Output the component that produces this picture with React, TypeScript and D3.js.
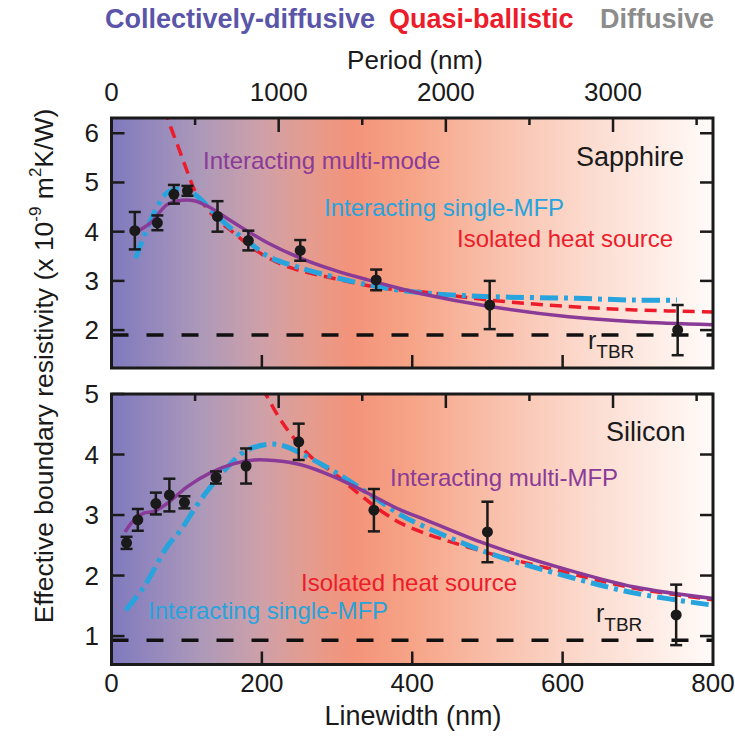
import React from "react";
import * as d3 from "d3";

// ---- Measured data (linewidth in nm, resistivity in 1e-9 m^2K/W) ----
const sapphireLw = [31, 61, 83, 101, 141, 182, 251, 352, 503, 753];
const sapphireR = [4.02, 4.18, 4.76, 4.83, 4.31, 3.82, 3.62, 3.02, 2.51, 2.0];
const sapphireErr = [0.38, 0.15, 0.19, 0.1, 0.31, 0.2, 0.21, 0.21, 0.49, 0.51];

const siliconLw = [20, 35, 59, 77, 97, 139, 179, 249, 349, 500, 751];
const siliconR = [2.54, 2.92, 3.19, 3.33, 3.21, 3.62, 3.81, 4.21, 3.08, 2.72, 1.35];
const siliconErr = [0.1, 0.18, 0.18, 0.27, 0.1, 0.1, 0.29, 0.3, 0.35, 0.5, 0.5];

// Model curves, sapphire
const sapMultiLw = [32, 52, 74, 94, 110, 130, 163, 208, 252, 296, 341, 385, 412, 503, 608, 696, 800];
const sapMultiR = [3.99, 4.18, 4.55, 4.64, 4.63, 4.5, 4.18, 3.77, 3.46, 3.22, 3.02, 2.84, 2.74, 2.48, 2.27, 2.17, 2.11];
const sapSingleLw = [32, 43, 59, 74, 97, 114, 141, 172, 190, 208, 252, 341, 412, 503, 608, 696, 752];
const sapSingleR = [3.46, 3.9, 4.45, 4.79, 4.87, 4.72, 4.31, 3.9, 3.7, 3.5, 3.26, 2.92, 2.76, 2.68, 2.65, 2.61, 2.61];
const sapIsoLw = [70, 74, 90, 103, 110, 132, 163, 194, 234, 296, 363, 412, 503, 608, 696, 800];
const sapIsoR = [6.5, 6.32, 5.67, 5.13, 4.86, 4.38, 3.97, 3.6, 3.29, 3.05, 2.85, 2.78, 2.61, 2.48, 2.41, 2.37];

// Model curves, silicon
const siMultiLw = [18, 28, 43, 56, 74, 101, 132, 163, 190, 216, 252, 296, 341, 385, 412, 496, 608, 696, 800];
const siMultiR = [2.72, 2.89, 3.03, 3.06, 3.19, 3.47, 3.7, 3.85, 3.91, 3.9, 3.83, 3.63, 3.36, 3.08, 2.95, 2.53, 2.09, 1.81, 1.62];
const siSingleLw = [19, 43, 74, 92, 114, 132, 155, 177, 208, 230, 261, 296, 341, 385, 407, 502, 608, 696, 800];
const siSingleR = [1.43, 1.81, 2.48, 2.75, 3.17, 3.47, 3.8, 4.05, 4.17, 4.14, 3.96, 3.72, 3.36, 3.0, 2.86, 2.37, 1.98, 1.71, 1.51];
const siIsoLw = [200, 205, 225, 252, 270, 296, 323, 363, 394, 496, 608, 696, 800];
const siIsoR = [5.1, 5.0, 4.57, 4.13, 3.91, 3.69, 3.41, 3.03, 2.81, 2.39, 2.04, 1.79, 1.6];

const sapphireTbr = 1.9;
const siliconTbr = 0.93;

const linewidthTicks = [0, 200, 400, 600, 800];
const periodMajorTicks = [0, 1000, 2000, 3000];
const periodMinorTicks = [500, 1500, 2500, 3500];
const sapphireYTicks = [2, 3, 4, 5, 6];
const siliconYTicks = [1, 2, 3, 4, 5];

const PURPLE = "#8a3b98";
const BLUE = "#27a3dd";
const RED = "#ec1c2a";
const FONT = "'Liberation Sans', Arial, sans-serif";

const X0 = 111.5;
const X1 = 713;
const x = d3.scaleLinear().domain([0, 800]).range([X0, X1]);
const xPeriod = d3.scaleLinear().domain([0, 3598]).range([X0, X1]);

type PanelProps = {
  id: string;
  top: number;
  bottom: number;
  y: d3.ScaleLinear<number, number>;
  yTicks: number[];
  lw: number[];
  r: number[];
  err: number[];
  multi: [number[], number[]];
  single: [number[], number[]];
  iso: [number[], number[]];
  tbr: number;
  children?: React.ReactNode;
};

function Panel(p: PanelProps) {
  const line = (xs: number[], ys: number[]) =>
    d3
      .line<number>()
      .x((_, i) => x(xs[i]))
      .y((_, i) => p.y(ys[i]))
      .curve(d3.curveCatmullRom.alpha(0.5))(ys) || "";
  const clipId = `clip-${p.id}`;
  return (
    <g>
      <defs>
        <clipPath id={clipId}>
          <rect x={X0} y={p.top} width={X1 - X0} height={p.bottom - p.top} />
        </clipPath>
      </defs>
      <rect x={X0} y={p.top} width={X1 - X0} height={p.bottom - p.top} fill="url(#regime)" />
      <g clipPath={`url(#${clipId})`}>
        <line
          x1={X0}
          x2={X1}
          y1={p.y(p.tbr)}
          y2={p.y(p.tbr)}
          stroke="#111"
          strokeWidth={3.5}
          strokeDasharray="17 18"
        />
        <path d={line(p.iso[0], p.iso[1])} fill="none" stroke={RED} strokeWidth={3.5} strokeDasharray="12 7" />
        <path
          d={line(p.single[0], p.single[1])}
          fill="none"
          stroke={BLUE}
          strokeWidth={5}
          strokeDasharray="18 6 4 6"
        />
        <path d={line(p.multi[0], p.multi[1])} fill="none" stroke={PURPLE} strokeWidth={3.5} />
      </g>
      {p.lw.map((v, i) => {
        const cx = x(v);
        const y1 = p.y(p.r[i] + p.err[i]);
        const y2 = p.y(p.r[i] - p.err[i]);
        return (
          <g key={i} stroke="#1a1a1a" strokeWidth={2.5}>
            <line x1={cx} x2={cx} y1={y1} y2={y2} />
            <line x1={cx - 6} x2={cx + 6} y1={y1} y2={y1} />
            <line x1={cx - 6} x2={cx + 6} y1={y2} y2={y2} />
            <circle cx={cx} cy={p.y(p.r[i])} r={5.5} fill="#1a1a1a" stroke="none" />
          </g>
        );
      })}
      {/* ticks, all pointing inward */}
      <g stroke="#1a1a1a" strokeWidth={2.5}>
        {p.yTicks.map((t) => (
          <g key={t}>
            <line x1={X0} x2={X0 + 13} y1={p.y(t)} y2={p.y(t)} />
            <line x1={X1 - 13} x2={X1} y1={p.y(t)} y2={p.y(t)} />
          </g>
        ))}
        {linewidthTicks.slice(1, -1).map((t) => (
          <line key={t} x1={x(t)} x2={x(t)} y1={p.bottom} y2={p.bottom - 13} />
        ))}
        {periodMajorTicks.slice(1).map((t) => (
          <line key={t} x1={xPeriod(t)} x2={xPeriod(t)} y1={p.top} y2={p.top + 14} />
        ))}
        {periodMinorTicks.map((t) => (
          <line key={t} x1={xPeriod(t)} x2={xPeriod(t)} y1={p.top} y2={p.top + 7} />
        ))}
      </g>
      <rect
        x={X0}
        y={p.top}
        width={X1 - X0}
        height={p.bottom - p.top}
        fill="none"
        stroke="#1a1a1a"
        strokeWidth={3}
      />
      {p.yTicks.map((t) => (
        <text key={t} x={99} y={p.y(t) + 9} textAnchor="end" fontSize={26} fill="#1a1a1a">
          {t}
        </text>
      ))}
      {p.children}
    </g>
  );
}

export default function App() {
  const ySap = d3.scaleLinear().domain([1.23, 6.31]).range([368, 118]);
  const ySi = d3.scaleLinear().domain([0.53, 5.0]).range([664.5, 394]);
  const regimeStops: [number, string][] = [
    [0, "#7f7abf"],
    [0.15, "#ad99b9"],
    [0.25, "#cfa0a8"],
    [0.33, "#e59c8e"],
    [0.4, "#f3937a"],
    [0.5, "#f6a487"],
    [0.65, "#f9c2ae"],
    [0.8, "#fcdcd0"],
    [1, "#fffbf9"],
  ];
  return (
    <svg
      width={735}
      height={736}
      style={{ position: "absolute", left: 0, top: 0, background: "#fff" }}
      fontFamily={FONT}
    >
      <defs>
        <linearGradient id="regime" gradientUnits="userSpaceOnUse" x1={X0} x2={X1} y1={0} y2={0}>
          {regimeStops.map(([o, c]) => (
            <stop key={o} offset={o} stopColor={c} />
          ))}
        </linearGradient>
      </defs>

      {/* regime headings */}
      <text y={28} fontSize={27} fontWeight="bold">
        <tspan x={105} fill="#5a55a8">Collectively-diffusive</tspan>
        <tspan x={389} fill={RED}>Quasi-ballistic</tspan>
        <tspan x={600} fill="#8c8c8c">Diffusive</tspan>
      </text>

      {/* period axis */}
      <text x={415} y={69} textAnchor="middle" fontSize={26} fill="#1a1a1a">
        Period (nm)
      </text>
      {periodMajorTicks.map((t) => (
        <text key={t} x={xPeriod(t)} y={101} textAnchor="middle" fontSize={26} fill="#1a1a1a">
          {t}
        </text>
      ))}

      <Panel
        id="sapphire"
        top={118}
        bottom={368}
        y={ySap}
        yTicks={sapphireYTicks}
        lw={sapphireLw}
        r={sapphireR}
        err={sapphireErr}
        multi={[sapMultiLw, sapMultiR]}
        single={[sapSingleLw, sapSingleR]}
        iso={[sapIsoLw, sapIsoR]}
        tbr={sapphireTbr}
      >
        <text x={203} y={169} fontSize={24} fill={PURPLE}>Interacting multi-mode</text>
        <text x={576} y={166} fontSize={27} fill="#1a1a1a">Sapphire</text>
        <text x={324} y={216} fontSize={24} fill={BLUE}>Interacting single-MFP</text>
        <text x={457} y={247} fontSize={24} fill={RED}>Isolated heat source</text>
        <text x={588} y={349} fontSize={25} fill="#1a1a1a">
          r<tspan fontSize={19} dy={9}>TBR</tspan>
        </text>
      </Panel>

      <Panel
        id="silicon"
        top={394}
        bottom={664.5}
        y={ySi}
        yTicks={siliconYTicks}
        lw={siliconLw}
        r={siliconR}
        err={siliconErr}
        multi={[siMultiLw, siMultiR]}
        single={[siSingleLw, siSingleR]}
        iso={[siIsoLw, siIsoR]}
        tbr={siliconTbr}
      >
        <text x={606} y={441} fontSize={27} fill="#1a1a1a">Silicon</text>
        <text x={390} y={486} fontSize={24} fill={PURPLE}>Interacting multi-MFP</text>
        <text x={301} y={591} fontSize={24} fill={RED}>Isolated heat source</text>
        <text x={148} y={619} fontSize={24} fill={BLUE}>Interacting single-MFP</text>
        <text x={596} y={622} fontSize={25} fill="#1a1a1a">
          r<tspan fontSize={19} dy={9}>TBR</tspan>
        </text>
      </Panel>

      {/* linewidth axis */}
      {linewidthTicks.map((t) => (
        <text key={t} x={x(t)} y={692} textAnchor="middle" fontSize={26} fill="#1a1a1a">
          {t}
        </text>
      ))}
      <text x={413} y={725} textAnchor="middle" fontSize={27} fill="#1a1a1a">
        Linewidth (nm)
      </text>

      {/* shared y label */}
      <text transform="translate(53,366) rotate(-90)" textAnchor="middle" fontSize={26.5} fill="#1a1a1a">
        Effective boundary resistivity (x 10
        <tspan fontSize={17} dy={-12}>-9</tspan>
        <tspan dy={12}> m</tspan>
        <tspan fontSize={17} dy={-12}>2</tspan>
        <tspan dy={12}>K/W)</tspan>
      </text>
    </svg>
  );
}
